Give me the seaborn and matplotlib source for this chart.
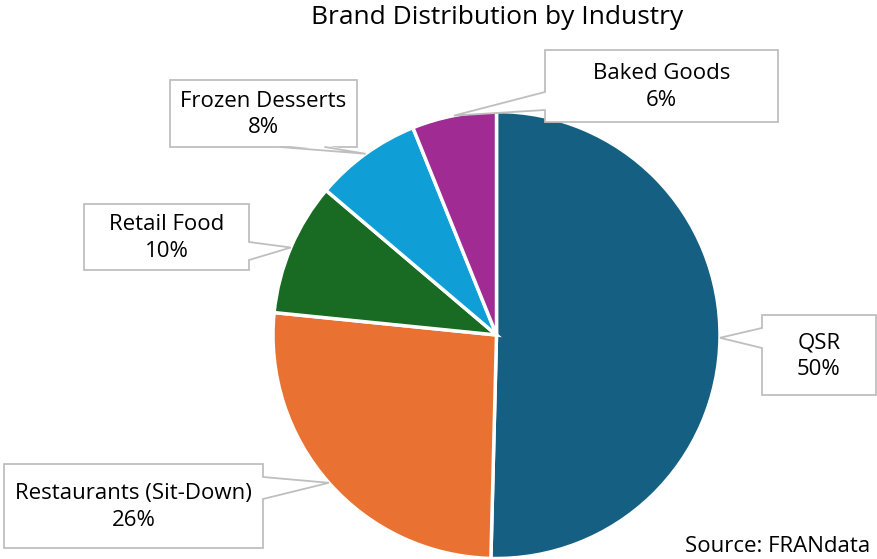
import numpy as np
import matplotlib
matplotlib.use("Agg")
import matplotlib.pyplot as plt
import seaborn as sns
from matplotlib.patches import Polygon, Rectangle

# ---- data ----
categories = ["QSR", "Restaurants (Sit-Down)", "Retail Food", "Frozen Desserts", "Baked Goods"]
shares = [50.4, 26.2, 9.6, 7.7, 6.1]
pct_labels = ["50%", "26%", "10%", "8%", "6%"]
colors = ["#156082", "#E97132", "#196B24", "#0F9ED5", "#A02B93"]
title = "Brand Distribution by Industry"
source = "Source: FRANdata"

sns.set_theme(style="white")
FONT = ["Open Sans", "DejaVu Sans"]
plt.rcParams["font.family"] = FONT

W, H = 877, 559
fig = plt.figure(figsize=(W / 100, H / 100), dpi=100)
fig.patch.set_facecolor("white")

# pie axes: centre (496.5, 335) px from top, radius 223.5 px
cx, cy, r = 496.5, 335.0, 223.5
ax = fig.add_axes([(cx - r) / W, (H - cy - r) / H, 2 * r / W, 2 * r / H])
palette = sns.color_palette(colors)
wedges, _ = ax.pie(shares, colors=palette, startangle=90, counterclock=False,
                   radius=1.0, wedgeprops=dict(edgecolor="white", linewidth=2.5))
ax.set_xlim(-1, 1)
ax.set_ylim(-1, 1)
ax.set_aspect("equal")
ax.axis("off")

# overlay axes in figure pixels (y downwards)
ov = fig.add_axes([0, 0, 1, 1], zorder=5)
ov.set_xlim(0, W)
ov.set_ylim(H, 0)
ov.axis("off")
ov.patch.set_alpha(0)

ov.text(497, 18, title, ha="center", va="center", fontsize=19, color="#000000")
ov.text(870, 546, source, ha="right", va="center", fontsize=16, color="#000000")

# callout boxes (x0, y0, x1, y1) and the side / base of the leader wedge
boxes = {
    "QSR": ((762, 315, 876, 395), "left", (328, 348)),
    "Restaurants (Sit-Down)": ((4, 464, 263, 548), "right", (477, 499)),
    "Retail Food": ((84, 204, 249, 270), "right", (242, 260)),
    "Frozen Desserts": ((170, 80, 357, 147), "bottom", (280, 325)),
    "Baked Goods": ((545, 50, 778, 122), "left", (92, 110)),
}
EC = "#BFBFBF"
for w, cat, pl in zip(wedges, categories, pct_labels):
    mid = np.deg2rad((w.theta1 + w.theta2) / 2)
    dx, dy = ax.transData.transform((np.cos(mid), np.sin(mid)))
    tip = (dx, H - dy)
    (x0, y0, x1, y1), side, (b0, b1) = boxes[cat]
    ov.add_patch(Rectangle((x0, y0), x1 - x0, y1 - y0, fc="white", ec=EC, lw=1.3, zorder=6))
    if side == "left":
        p0, p1 = (x0, b0), (x0, b1)
        q0, q1 = (x0 + 2, b0), (x0 + 2, b1)
    elif side == "right":
        p0, p1 = (x1, b0), (x1, b1)
        q0, q1 = (x1 - 2, b0), (x1 - 2, b1)
    else:
        p0, p1 = (b0, y1), (b1, y1)
        q0, q1 = (b0, y1 - 2), (b1, y1 - 2)
    ov.add_patch(Polygon([q0, tip, q1], closed=True, fc="white", ec="none", zorder=7))
    ov.plot([p0[0], tip[0], p1[0]], [p0[1], tip[1], p1[1]], color=EC, lw=1.3,
            zorder=8, solid_joinstyle="miter")
    ov.text((x0 + x1) / 2, (y0 + y1) / 2 + 1, f"{cat}\n{pl}", ha="center", va="center",
            fontsize=16, linespacing=1.32, color="#000000", zorder=9)

fig.savefig("out.png", dpi=100, facecolor="white")
